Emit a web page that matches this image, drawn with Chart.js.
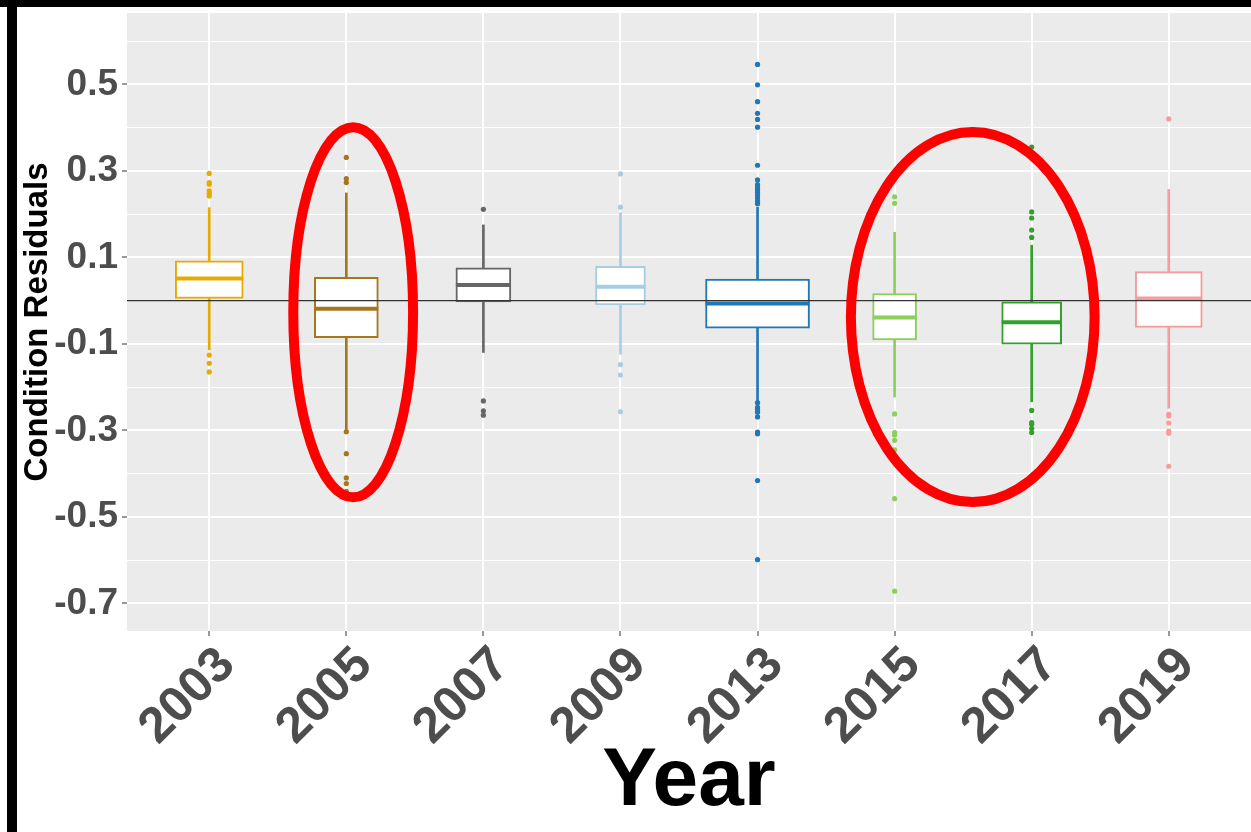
<!DOCTYPE html>
<html>
<head>
<meta charset="utf-8">
<script src="https://cdn.jsdelivr.net/npm/chart.js@4.4.1/dist/chart.umd.min.js"></script>
<style>
  html, body { margin: 0; padding: 0; background: #fff; }
  #wrap { position: relative; width: 1251px; height: 832px; overflow: hidden; }
  #boxChart { position: absolute; left: 0; top: 0; }
  #topBar { position: absolute; left: 0; top: 0; width: 1251px; height: 7px; background: #000; }
  #leftBar { position: absolute; left: 7px; top: 0; width: 10px; height: 832px; background: #000; }
</style>
</head>
<body>
<div id="wrap">
  <canvas id="boxChart" width="1251" height="832"></canvas>
  <div id="topBar"></div>
  <div id="leftBar"></div>
</div>
<script>
// data
const years = ['2003', '2005', '2007', '2009', '2013', '2015', '2017', '2019'];
const whiskerLow  = [-0.114, -0.297, -0.120, -0.124, -0.234, -0.223, -0.234, -0.249];
const q1          = [ 0.005, -0.086, -0.003, -0.010, -0.064, -0.091, -0.101, -0.062];
const medians     = [ 0.051, -0.019,  0.036,  0.032, -0.007, -0.039, -0.050,  0.005];
const q3          = [ 0.092,  0.054,  0.076,  0.079,  0.050,  0.016, -0.003,  0.067];
const whiskerHigh = [ 0.215,  0.249,  0.175,  0.203,  0.216,  0.158,  0.128,  0.257];
const outliers = [
  [0.294, 0.273, 0.269, 0.254, 0.248, 0.242, -0.126, -0.145, -0.165],
  [0.331, 0.282, 0.273, -0.303, -0.354, -0.410, -0.423, -0.441],
  [0.211, -0.232, -0.255, -0.265],
  [0.293, 0.216, -0.148, -0.172, -0.257],
  [0.546, 0.499, 0.460, 0.433, 0.419, 0.401, 0.313, 0.279, 0.268, 0.261, 0.256,
   0.250, 0.244, 0.237, 0.230, 0.224, -0.236, -0.247, -0.252, -0.258, -0.269,
   -0.304, -0.308, -0.416, -0.599],
  [0.240, 0.225, -0.262, -0.305, -0.311, -0.323, -0.345, -0.458, -0.672],
  [0.355, 0.205, 0.191, 0.163, 0.146, -0.254, -0.282, -0.286, -0.296, -0.305],
  [0.420, -0.263, -0.267, -0.283, -0.302, -0.307, -0.383]
];

// styling
const colours = ['#E6AB02', '#A6761D', '#666666', '#A6CEE3', '#1F78B4', '#8CCF5C', '#33A02C', '#F79C9B'];
const boxPx = [68, 64, 55, 50, 104, 44, 60, 67];
// red circles drawn on the figure (in axis units)
const highlights = [
  { cx: 1.05, cy: -0.027, rx: 0.437, ry: 0.428 },
  { cx: 5.57, cy: -0.038, rx: 0.889, ry: 0.428 }
];

Chart.defaults.font.family = 'Liberation Sans';

const panelBg = {
  id: 'panelBg',
  beforeDraw(chart) {
    const { ctx, chartArea: a } = chart;
    ctx.save();
    ctx.fillStyle = '#EBEBEB';
    ctx.fillRect(a.left, a.top, a.right - a.left, a.bottom - a.top);
    ctx.restore();
  }
};

const ellipses = {
  id: 'ellipses',
  afterDraw(chart) {
    const { ctx, scales: { x, y } } = chart;
    ctx.save();
    ctx.strokeStyle = '#FF0000';
    ctx.lineWidth = 10;
    highlights.forEach(h => {
      const px = x.getPixelForValue(h.cx);
      const py = y.getPixelForValue(h.cy);
      const rx = x.getPixelForValue(h.cx + h.rx) - px;
      const ry = py - y.getPixelForValue(h.cy + h.ry);
      ctx.beginPath();
      ctx.ellipse(px, py, rx, ry, 0, 0, Math.PI * 2);
      ctx.stroke();
    });
    ctx.restore();
  }
};

const noPad = s => {
  s.paddingTop = 0; s.paddingBottom = 0; s.paddingLeft = 0; s.paddingRight = 0;
};

const datasets = [{
  type: 'line',
  data: [{ x: -0.6, y: 0 }, { x: 7.6, y: 0 }],
  borderColor: '#333333',
  borderWidth: 1.3,
  pointRadius: 0,
  order: 0
}];

years.forEach((yr, i) => {
  const c = colours[i];
  datasets.push({
    type: 'scatter',
    data: [{ x: i, y: medians[i] }],
    pointStyle: 'line',
    pointRadius: boxPx[i] / 2,
    borderColor: c,
    borderWidth: 4,
    order: 1
  });
  datasets.push({
    type: 'bar',
    data: [{ x: i, y: [q1[i], q3[i]] }],
    barThickness: boxPx[i],
    backgroundColor: '#FFFFFF',
    borderColor: c,
    borderWidth: 2,
    borderSkipped: false,
    grouped: false,
    order: 2
  });
  datasets.push({
    type: 'bar',
    data: [{ x: i, y: [whiskerLow[i], whiskerHigh[i]] }],
    barThickness: 2,
    backgroundColor: c,
    borderWidth: 0,
    grouped: false,
    order: 3
  });
  datasets.push({
    type: 'scatter',
    data: outliers[i].map(v => ({ x: i, y: v })),
    pointRadius: 2.6,
    backgroundColor: c,
    borderWidth: 0,
    order: 3
  });
});

const isMajor = v => Math.abs(Math.round(v * 10)) % 2 === 1;

new Chart(document.getElementById('boxChart'), {
  type: 'bar',
  data: { datasets },
  plugins: [panelBg, ellipses],
  options: {
    responsive: false,
    animation: false,
    layout: { autoPadding: false, padding: { top: 13, left: 0, right: 0, bottom: 0 } },
    plugins: { legend: { display: false }, tooltip: { enabled: false } },
    scales: {
      x: {
        type: 'linear',
        min: -0.6,
        max: 7.6,
        offset: false,
        afterFit: s => { s.height = 201; noPad(s); },
        border: { display: false },
        grid: { color: '#FFFFFF', lineWidth: 2, offset: false, tickLength: 5, tickColor: '#333333', tickWidth: 1 },
        ticks: {
          stepSize: 1,
          includeBounds: false,
          autoSkip: false,
          minRotation: 45,
          maxRotation: 45,
          padding: 0,
          labelOffset: 18,
          color: '#4D4D4D',
          font: { size: 50, weight: 'bold' },
          callback: v => years[v] ?? ''
        },
        title: {
          display: true,
          text: 'Year',
          color: '#000000',
          font: { size: 82, weight: 'bold' },
          padding: { top: 0, bottom: 0 }
        }
      },
      y: {
        min: -0.764,
        max: 0.665,
        afterFit: s => { s.width = 127; noPad(s); },
        border: { display: false },
        grid: {
          color: '#FFFFFF',
          lineWidth: ctx => (ctx.tick && isMajor(ctx.tick.value)) ? 2 : 1,
          tickLength: 5,
          tickColor: ctx => (ctx.tick && isMajor(ctx.tick.value)) ? '#333333' : 'rgba(0,0,0,0)',
          tickWidth: 1
        },
        ticks: {
          stepSize: 0.1,
          includeBounds: false,
          padding: 4,
          color: '#4D4D4D',
          font: { size: 37, weight: 'bold' },
          callback: v => isMajor(v) ? (Math.round(v * 10) / 10).toFixed(1) : ''
        },
        title: {
          display: true,
          text: 'Condition Residuals',
          color: '#000000',
          font: { size: 33, weight: 'bold' },
          padding: { top: 18, bottom: 0 }
        }
      }
    }
  }
});
</script>
</body>
</html>
